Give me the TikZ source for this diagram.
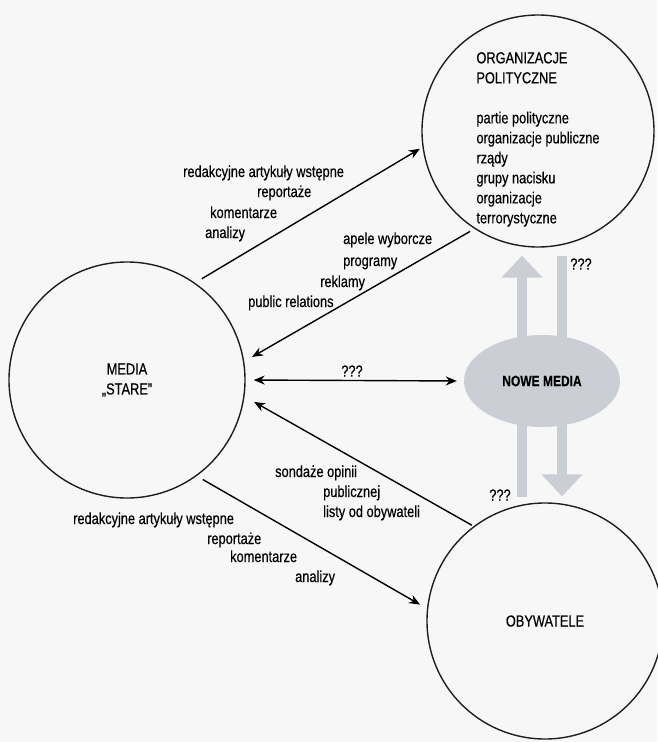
\documentclass[tikz,border=0pt]{standalone}
\usepackage{fontspec}
\setmainfont{Liberation Sans}[FakeStretch=0.8,FakeBold=0.4]
\usepackage{xcolor}
\usepackage{tikz}
\usetikzlibrary{arrows.meta,shapes.geometric,backgrounds}
\definecolor{paper}{RGB}{247,247,247}
\definecolor{haze}{RGB}{203,206,213}

\begin{document}
\begin{tikzpicture}[
  x=1pt,y=-1pt,
  font=\fontsize{16}{20}\selectfont,
  circ/.style={draw=black!88,circle,line width=1.4pt,minimum size=236pt,inner sep=0pt,align=center},
  cloud/.style={ellipse,fill=haze,minimum width=156pt,minimum height=92pt,inner sep=0pt,font=\fontsize{15}{18}\selectfont\bfseries},
  lbl/.style={anchor=base west,inner sep=0pt},
  qq/.style={inner sep=0pt},
  flow/.style={-{Stealth[length=11pt,width=9pt]},line width=1.4pt},
  both/.style={{Stealth[length=11pt,width=9pt]}-{Stealth[length=11pt,width=9pt]},line width=1.4pt},
  wide/.style={-{Triangle[length=22pt,width=40pt]},line width=10pt,draw=haze},
]
\useasboundingbox (0,0) rectangle (657,742);

% the three actors
\node[circ] (media) at (127,380) {MEDIA\\,,STARE''};
\node[circ,minimum size=232pt,align=left] (org) at (538,131)
  {\rule{0pt}{28pt}ORGANIZACJE\\POLITYCZNE\\[20pt]partie polityczne\\organizacje publiczne\\rządy\\grupy nacisku\\organizacje\\terrorystyczne};
\node[circ] (oby) at (545,621) {OBYWATELE};
\node[cloud] (nm) at (542,381) {NOWE MEDIA};

% paper and the two wide arrows behind the cloud
\begin{scope}[on background layer]
  \fill[paper] (0,0) rectangle (657,742);
  \draw[wide] ([xshift=-23pt,yshift=5pt]oby.north) -- ([xshift=-16pt,yshift=-8pt]org.south);
  \draw[wide] ([xshift=24pt,yshift=-8pt]org.south) -- ([xshift=17pt,yshift=6pt]oby.north);
\end{scope}

% arrows between the circles
\draw[flow,shorten <=8pt,shorten >=3pt] (media.55) -- (org.188);
\draw[flow,shorten <=5pt,shorten >=9pt] (org.237) -- (media.9);
\draw[both,shorten <=8pt,shorten >=7pt] (media.east) -- (nm.west);
\draw[flow,shorten <=2pt,shorten >=11pt] (oby.127) -- (media.-8);
\draw[flow,shorten <=7pt,shorten >=8pt] (media.-54) -- (oby.174);

% media -> organizacje
\node[lbl] (t1) at (183,177) {redakcyjne artykuły wstępne};
\node[lbl] (t2) at (257,197) {reportaże};
\node[lbl] (t3) at (210,218) {komentarze};
\node[lbl] (t4) at (205,238) {analizy};

% organizacje -> media
\node[lbl] (p1) at (343,244) {apele wyborcze};
\node[lbl] (p2) at (343,266) {programy};
\node[lbl] (p3) at (320,287) {reklamy};
\node[lbl] (p4) at (248,307) {public relations};

% obywatele -> media
\node[lbl] (s1) at (275,477) {sondaże opinii};
\node[lbl] (s2) at (323,497) {publicznej};
\node[lbl] (s3) at (323,517) {listy od obywateli};

% media -> obywatele
\node[lbl] (b1) at (73,524) {redakcyjne artykuły wstępne};
\node[lbl] (b2) at (207,544) {reportaże};
\node[lbl] (b3) at (230,562) {komentarze};
\node[lbl] (b4) at (295,582) {analizy};

% question marks
\node[qq] (q1) at (352,371) {???};
\node[qq] (q2) at (581,264) {???};
\node[qq] (q3) at (500,495) {???};
\end{tikzpicture}
\end{document}
